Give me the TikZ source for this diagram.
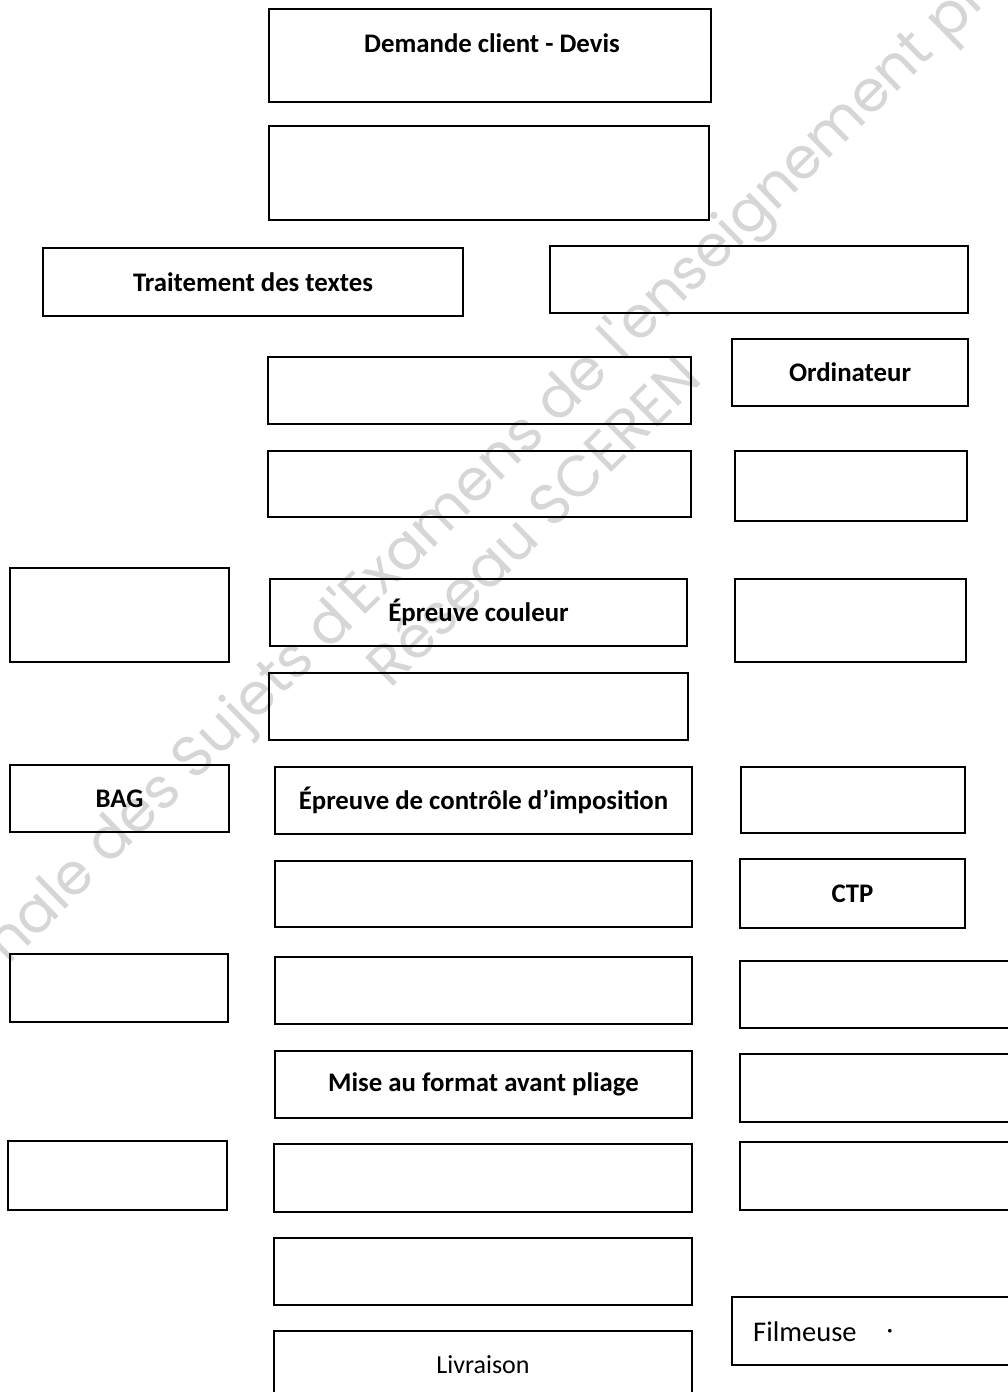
\documentclass[tikz,border=0pt]{standalone}
\usepackage{fontspec}
\setmainfont{Carlito}
\newfontfamily\wmfont{Poppins}
\usetikzlibrary{fit}
\tikzset{
  box/.style={draw=black, line width=1.6pt, inner sep=0pt, rectangle},
  lbl/.style={font=\fontsize{26.8}{30}\selectfont\bfseries, inner sep=0pt},
  plain/.style={font=\fontsize{26}{30}\selectfont, inner sep=0pt},
  wm/.style={font=\wmfont\fontsize{57.5}{60}\selectfont, text=black!16, inner sep=0pt},
  wmw/.style={wm, rotate=44.5, anchor=base west}
}
\newcommand\bx[5]{\node[box, fit={(#2,#3)(#4,#5)}] (#1) {};}
\newcommand\lb[2]{\node[lbl] (#1t) at (#1.center) {#2};}
\newcommand\wsp{\kern0.27em}
\begin{document}
\begin{tikzpicture}[x=1pt,y=-1pt]
\clip (0,0) rectangle (1008,1392);
\fill[white] (0,0) rectangle (1008,1392);
% watermark
\node[wmw] (wa) at (8,966) {nale\wsp};
\node[wmw] (wb) at (wa.base east) {des\wsp};
\node[wmw] (wc) at (wb.base east) {Sujets\wsp};
\node[wmw] (wd) at (wc.base east) {d'Examens\wsp};
\node[wmw] (we) at (wd.base east) {de\wsp};
\node[wmw] (wf) at (we.base east) {l'enseignement\wsp};
\node[wmw] (wg) at (wf.base east) {pro};
\node[wmw] (wh) at (390,690) {Réseau\wsp};
\node[wmw] (wi) at (wh.base east) {SCEREN};
% boxes
\bx{dem}{269}{9}{711}{102}
\node[lbl] (demt) at (492,43) {Demande client - Devis};
\bx{b2}{269}{126}{709}{220}
\bx{trait}{43}{248}{463}{316}\lb{trait}{Traitement des textes}
\bx{r3}{550}{246}{968}{313}
\bx{c4}{268}{357}{691}{424}
\bx{ordi}{732}{339}{968}{406}\lb{ordi}{Ordinateur}
\bx{c5}{268}{451}{691}{517}
\bx{r5}{735}{451}{967}{521}
\bx{l6}{10}{568}{229}{662}
\bx{coul}{270}{579}{687}{646}\lb{coul}{Épreuve couleur}
\bx{r6}{735}{579}{966}{662}
\bx{c7}{269}{673}{688}{740}
\bx{bag}{10}{765}{229}{832}\lb{bag}{BAG}
\bx{impo}{275}{767}{692}{834}\lb{impo}{Épreuve de contrôle d’imposition}
\bx{r8}{741}{767}{965}{833}
\bx{c9}{275}{861}{692}{927}
\bx{ctp}{740}{859}{965}{928}\lb{ctp}{CTP}
\bx{l10}{10}{954}{228}{1022}
\bx{c10}{275}{957}{692}{1024}
\bx{r10}{740}{961}{1100}{1028}
\bx{mise}{275}{1051}{692}{1118}\lb{mise}{Mise au format avant pliage}
\bx{r11}{740}{1054}{1100}{1122}
\bx{l12}{8}{1141}{227}{1210}
\bx{c12}{274}{1144}{692}{1212}
\bx{r12}{740}{1142}{1100}{1210}
\bx{c13}{274}{1238}{692}{1305}
\bx{livr}{274}{1331}{692}{1420}
\node[plain] (livrt) at (483,1365) {Livraison};
\bx{film}{732}{1297}{1100}{1365}
\node[plain, anchor=west, font=\fontsize{28.5}{30}\selectfont] (filmt) at (753,1332) {Filmeuse};
\node[plain] (filmdot) at (890,1334) {·};
\end{tikzpicture}
\end{document}
